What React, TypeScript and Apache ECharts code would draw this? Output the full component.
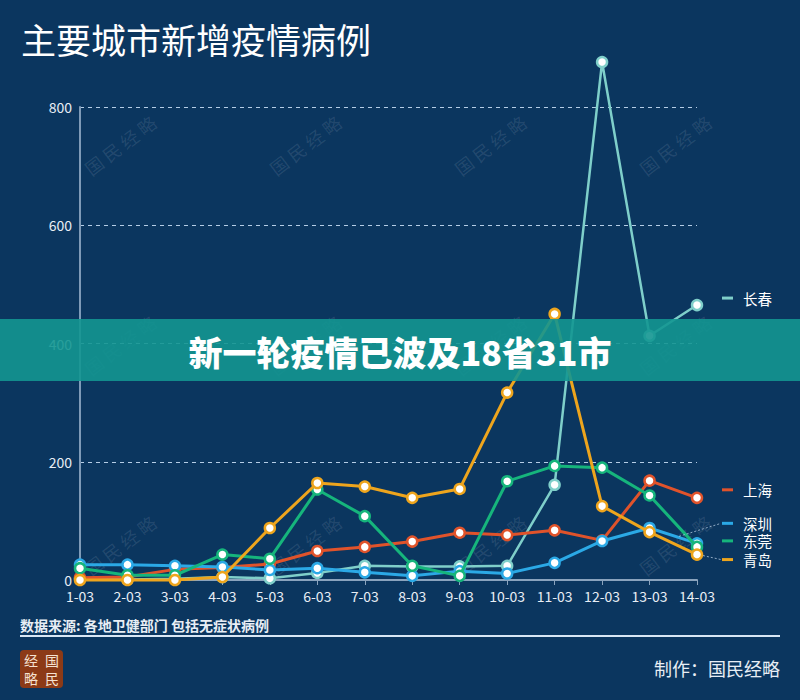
import React, { useEffect, useRef } from "react";
import * as echarts from "echarts";

const categories = ["1-03", "2-03", "3-03", "4-03", "5-03", "6-03", "7-03", "8-03", "9-03", "10-03", "11-03", "12-03", "13-03", "14-03"];
const yTicks = [0, 200, 400, 600, 800];

const changchun = [2, 1, 2, 5, 3, 12, 24, 23, 23, 24, 161, 876, 413, 465];
const shanghai = [4, 5, 18, 21, 27, 49, 56, 65, 80, 76, 84, 67, 168, 139];
const shenzhen = [26, 26, 24, 22, 17, 20, 13, 7, 15, 11, 29, 66, 88, 62];
const dongguan = [20, 8, 8, 43, 36, 153, 108, 24, 7, 167, 193, 190, 143, 56];
const qingdao = [0, 0, 0, 5, 88, 164, 158, 139, 154, 317, 450, 125, 81, 43];

const seriesDefs = [
  { name: "长春", data: changchun, color: "#7fcfca", width: 2.5, labelDy: -7 },
  { name: "上海", data: shanghai, color: "#e0532b", width: 3, labelDy: -8 },
  { name: "深圳", data: shenzhen, color: "#2ba9e6", width: 3, labelDy: -20 },
  { name: "东莞", data: dongguan, color: "#16b57c", width: 3, labelDy: -6 },
  { name: "青岛", data: qingdao, color: "#eea51d", width: 3, labelDy: 5 },
];

const FONT = "'Noto Sans CJK SC', 'Noto Sans', sans-serif";

export default function App() {
  const ref = useRef<HTMLDivElement>(null);
  useEffect(() => {
    if (!ref.current) return;
    const chart = echarts.init(ref.current, null, { renderer: "svg" });
    const option: any = {
      animation: false,
      backgroundColor: "#0b365f",
      textStyle: { fontFamily: FONT },
      grid: { left: 80, right: 103, top: 107, bottom: 120, containLabel: false },
      xAxis: {
        type: "category",
        data: categories,
        boundaryGap: false,
        axisLine: { show: true, lineStyle: { color: "#8aa3bd", width: 2 } },
        axisTick: { show: true, length: 5, lineStyle: { color: "#8aa3bd" } },
        axisLabel: { color: "#e8eef5", fontSize: 14, lineHeight: 14, margin: 9, fontFamily: FONT },
        splitLine: { show: false },
      },
      yAxis: {
        type: "value",
        min: 0,
        max: 800,
        interval: 200,
        axisLine: { show: true, lineStyle: { color: "#7f9bb8", width: 2 } },
        axisTick: { show: false },
        axisLabel: {
          color: "#e8eef5",
          fontSize: 14,
          lineHeight: 14,
          margin: 8,
          fontFamily: FONT,
          formatter: (v: number) => (yTicks.includes(v) ? String(v) : ""),
        },
        splitLine: { show: true, lineStyle: { color: "rgba(200,222,245,0.9)", type: [4, 4], width: 1.2 } },
      },
      series: seriesDefs.map((s, i) => ({
        name: s.name,
        type: "line",
        data: s.data,
        clip: false,
        z: 2 + i,
        symbol: "circle",
        symbolSize: 10,
        showAllSymbol: true,
        lineStyle: { color: s.color, width: s.width },
        itemStyle: { color: "#ffffff", borderColor: s.color, borderWidth: 2.5 },
      })),
    };
    chart.setOption(option);

    const graphics: any[] = [];
    // watermarks
    const wmX = [120, 305, 490, 675];
    const wmY = [145, 345, 545];
    wmY.forEach((y) =>
      wmX.forEach((x) =>
        graphics.push({
          type: "text",
          x,
          y,
          rotation: 0.65,
          z: 1,
          style: {
            text: "国 民 经 略",
            fill: "rgba(255,255,255,0.1)",
            font: `18px ${FONT}`,
            align: "center",
            verticalAlign: "middle",
          },
        })
      )
    );
    // legend labels at line ends
    const last = categories.length - 1;
    seriesDefs.forEach((s) => {
      const p = chart.convertToPixel({ xAxisIndex: 0, yAxisIndex: 0 }, [last, s.data[last]]) as number[];
      const ly = p[1] + s.labelDy;
      graphics.push({
        type: "line",
        z: 50,
        shape: { x1: 722, y1: ly, x2: 733, y2: ly },
        style: { stroke: s.color, lineWidth: 3 },
      });
      graphics.push({
        type: "text",
        x: 743,
        y: ly,
        z: 50,
        style: {
          text: s.name,
          fill: "#ffffff",
          font: `14.5px ${FONT}`,
          lineHeight: 15,
          align: "left",
          verticalAlign: "middle",
        },
      });
      if (s.name === "深圳" || s.name === "青岛") {
        graphics.push({
          type: "line",
          z: 50,
          shape: { x1: p[0] + (s.name === "深圳" ? -18 : 6), y1: p[1] + (s.name === "深圳" ? -7 : 1), x2: 721, y2: ly },
          style: { stroke: "rgba(200,220,240,0.7)", lineWidth: 1, lineDash: [2, 2] },
        });
      }
    });
    // banner
    graphics.push({
      type: "rect",
      z: 100,
      shape: { x: 0, y: 319, width: 800, height: 62 },
      style: { fill: "rgba(19,150,145,0.9)" },
    });
    graphics.push({
      type: "text",
      z: 101,
      x: 400,
      y: 351,
      style: {
        text: "新一轮疫情已波及18省31市",
        fill: "#ffffff",
        font: `900 34px ${FONT}`,
        align: "center",
        verticalAlign: "middle",
      },
    });
    // title
    graphics.push({
      type: "text",
      x: 21,
      y: 38,
      z: 50,
      style: { text: "主要城市新增疫情病例", fill: "#ffffff", font: `35px ${FONT}`, align: "left", verticalAlign: "middle" },
    });
    // footer
    graphics.push({
      type: "text",
      x: 20,
      y: 625,
      z: 50,
      style: { text: "数据来源: 各地卫健部门 包括无症状病例", fill: "#e8eef5", font: `bold 14px ${FONT}`, align: "left", verticalAlign: "middle" },
    });
    graphics.push({
      type: "line",
      z: 50,
      shape: { x1: 20, y1: 636, x2: 780, y2: 636 },
      style: { stroke: "#d8e6f4", lineWidth: 2 },
    });
    graphics.push({
      type: "text",
      x: 780,
      y: 668,
      z: 50,
      style: { text: "制作：国民经略", fill: "#e8eef5", font: `18px ${FONT}`, align: "right", verticalAlign: "middle" },
    });
    // logo
    graphics.push({
      type: "rect",
      z: 50,
      shape: { x: 20, y: 650, width: 43, height: 38, r: 4 },
      style: { fill: "#8c3a17" },
    });
    const logoChars = [
      { t: "经", x: 31, y: 660 },
      { t: "国", x: 52, y: 660 },
      { t: "略", x: 31, y: 678 },
      { t: "民", x: 52, y: 678 },
    ];
    logoChars.forEach((c) =>
      graphics.push({
        type: "text",
        x: c.x,
        y: c.y,
        z: 51,
        style: { text: c.t, fill: "#f5e2d2", font: `14px ${FONT}`, lineHeight: 14, align: "center", verticalAlign: "middle" },
      })
    );
    chart.setOption({ graphic: graphics });

    return () => chart.dispose();
  }, []);
  return <div ref={ref} style={{ position: "fixed", left: 0, top: 0, width: 800, height: 700 }} />;
}
